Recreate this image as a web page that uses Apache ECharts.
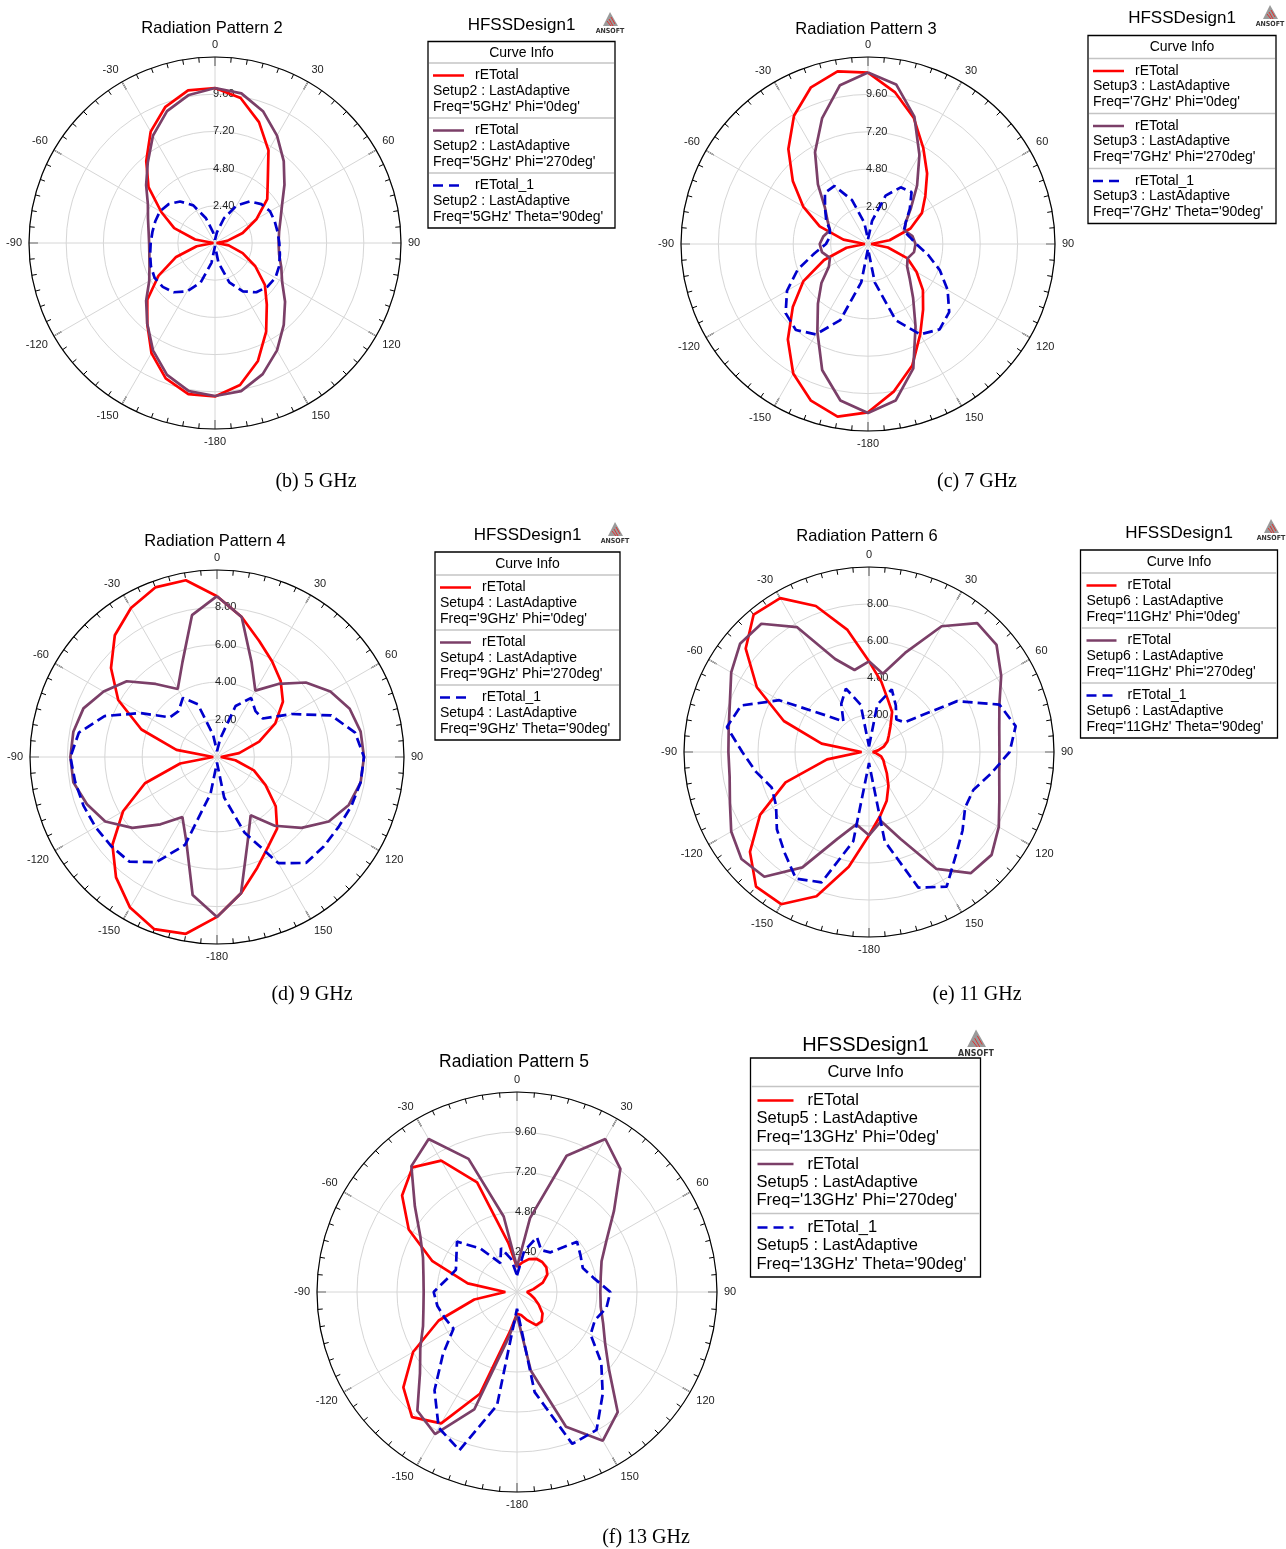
<!DOCTYPE html>
<html>
<head>
<meta charset="utf-8">
<script src="https://cdn.jsdelivr.net/npm/echarts@6/dist/echarts.min.js"></script>
<style>
  html, body { margin: 0; padding: 0; background: #fff; }
  #main { width: 1286px; height: 1549px; }
</style>
</head>
<body>
<div id="main"></div>
<script>
// angles (deg, clockwise from top) of the sampled points
var angleDeg = [0, 10, 20, 30, 40, 50, 60, 70, 80, 90, 100, 110, 120, 130, 140, 150, 160, 170,
  180, 190, 200, 210, 220, 230, 240, 250, 260, 270, 280, 290, 300, 310, 320, 330, 340, 350];

// 5 GHz
var red5G = [10.0, 9.5, 8.3, 6.9, 5.3, 4.4, 3.1, 1.9, 0.8, 0.1, 0.9, 1.9, 3.0, 4.2, 5.2, 6.6, 8.1, 9.3,
  9.9, 9.9, 9.3, 8.2, 6.8, 5.7, 4.2, 2.7, 1.2, 0.1, 1.3, 2.8, 4.0, 5.6, 6.9, 8.3, 9.35, 10.0];
var purple5G = [10.0, 9.8, 9.05, 8.0, 6.9, 5.85, 5.0, 4.5, 4.2, 4.1, 4.2, 4.55, 5.0, 5.9, 6.9, 8.0, 9.0, 9.7,
  9.87, 9.7, 9.05, 8.0, 6.8, 5.8, 4.9, 4.5, 4.3, 4.25, 4.35, 4.6, 5.0, 5.8, 6.75, 8.0, 9.05, 9.7];
var blue5G = [0.2, 0.7, 1.7, 2.8, 3.5, 3.9, 4.1, 4.1, 4.1, 4.15, 4.25, 4.4, 4.5, 4.4, 4.15, 3.6, 2.7, 1.3,
  0.2, 1.3, 2.7, 3.6, 4.15, 4.4, 4.5, 4.4, 4.25, 4.15, 4.1, 4.1, 4.1, 3.9, 3.5, 2.8, 1.7, 0.7];

// 7 GHz
var red7G = [11.0, 9.9, 8.6, 7.1, 5.9, 4.8, 4.0, 2.9, 1.4, 0.2, 1.3, 2.7, 3.6, 4.6, 5.5, 6.7, 8.3, 9.6,
  10.8, 11.25, 10.7, 9.6, 8.0, 6.3, 4.8, 3.0, 1.4, 0.2, 1.6, 3.3, 4.8, 6.3, 7.95, 9.5, 10.7, 11.25];
var purple7G = [11.0, 10.4, 8.7, 6.6, 4.9, 3.6, 2.8, 2.5, 2.9, 3.05, 3.0, 2.7, 2.9, 3.5, 4.5, 6.1, 8.5, 10.2,
  10.85, 10.2, 8.6, 6.5, 5.0, 3.9, 2.9, 2.6, 3.0, 3.1, 2.9, 2.6, 3.0, 3.6, 5.0, 6.8, 8.6, 10.35];
var blue7G = [0.3, 1.5, 3.3, 4.2, 4.35, 3.5, 2.8, 2.45, 2.7, 3.1, 3.9, 4.9, 5.9, 6.8, 7.15, 6.7, 5.2, 2.5,
  0.3, 2.5, 5.2, 6.7, 7.2, 6.9, 6.0, 4.8, 3.5, 2.7, 2.5, 2.6, 3.1, 3.6, 4.3, 4.3, 3.0, 1.4];

// 9 GHz
var red9G = [8.6, 7.6, 6.6, 5.9, 5.3, 4.6, 3.6, 2.4, 1.2, 0.2, 1.0, 2.1, 3.0, 4.1, 5.0, 5.5, 6.3, 7.4,
  8.55, 9.6, 9.8, 9.3, 8.4, 7.3, 5.8, 4.1, 2.0, 0.2, 2.2, 4.3, 6.1, 7.4, 8.5, 9.2, 9.65, 9.6];
var purple9G = [8.6, 7.6, 5.4, 4.1, 5.1, 6.2, 7.0, 7.55, 7.8, 7.86, 7.8, 7.5, 6.9, 5.9, 4.8, 3.6, 4.8, 7.4,
  8.56, 7.5, 4.8, 3.7, 4.7, 5.9, 6.9, 7.4, 7.8, 7.84, 7.8, 7.6, 7.0, 6.3, 5.1, 4.2, 5.4, 7.7];
var blue9G = [0.3, 1.0, 2.9, 3.65, 3.2, 3.2, 4.6, 6.5, 7.5, 7.86, 7.8, 7.65, 7.5, 7.45, 7.4, 6.55, 4.3, 2.2,
  0.3, 2.0, 5.0, 6.5, 7.3, 7.4, 7.5, 7.6, 7.7, 7.84, 7.5, 6.4, 4.7, 3.3, 3.2, 3.65, 3.0, 1.2];

// 11 GHz
var red11G = [4.9, 3.85, 3.0, 2.5, 1.8, 1.4, 1.15, 0.85, 0.5, 0.2, 0.4, 0.7, 0.9, 1.1, 1.5, 2.1, 2.8, 3.5,
  4.5, 6.3, 8.3, 9.5, 9.5, 8.4, 6.8, 4.8, 2.3, 0.4, 2.6, 4.9, 7.0, 8.7, 9.7, 9.6, 8.4, 6.7];
var purple11G = [4.9, 4.3, 5.7, 7.85, 9.1, 9.0, 8.25, 7.5, 7.15, 7.05, 7.15, 7.5, 8.1, 8.65, 8.55, 7.3, 5.0, 3.8,
  4.5, 3.97, 5.0, 7.2, 8.8, 9.0, 8.6, 8.0, 7.65, 7.6, 7.7, 8.0, 8.6, 9.1, 9.05, 7.8, 5.35, 4.5];
var blue11G = [0.3, 2.6, 3.6, 2.9, 2.3, 2.5, 5.5, 7.5, 8.05, 7.6, 6.7, 6.0, 6.0, 6.6, 7.3, 8.4, 7.8, 4.9,
  0.6, 4.9, 7.5, 7.9, 7.1, 6.5, 5.8, 5.6, 6.2, 6.85, 7.8, 7.35, 5.6, 3.1, 2.15, 3.0, 3.65, 2.6];

// 13 GHz
var red13G = [1.5, 1.8, 2.1, 2.3, 2.35, 2.3, 2.1, 1.65, 1.0, 0.6, 0.8, 1.1, 1.5, 2.0, 2.3, 2.3, 1.8, 1.4,
  1.3, 2.4, 6.5, 9.1, 9.8, 8.9, 7.2, 5.0, 2.6, 0.7, 3.0, 5.4, 7.5, 9.0, 9.76, 9.1, 7.0, 3.0];
var purple13G = [1.5, 4.5, 8.7, 10.6, 9.65, 7.6, 6.2, 5.4, 5.1, 5.0, 5.1, 5.5, 6.1, 7.2, 9.4, 10.3, 8.6, 4.8,
  1.4, 2.7, 7.5, 9.84, 9.3, 7.6, 6.7, 6.0, 5.7, 5.6, 5.7, 6.0, 6.7, 8.0, 9.86, 10.6, 8.5, 4.6];
var blue13G = [1.0, 2.5, 3.5, 2.9, 3.1, 4.7, 4.4, 4.2, 4.7, 5.6, 5.45, 4.97, 5.1, 6.6, 8.0, 9.55, 9.7, 6.1,
  1.0, 6.9, 10.1, 9.4, 7.7, 5.8, 4.4, 4.6, 4.85, 5.0, 4.3, 3.9, 4.2, 4.7, 3.4, 2.0, 2.8, 2.0];

// radial scale per plot
var radiusMax = [12, 12, 10, 10, 12];
var radiusStep = [2.4, 2.4, 2, 2, 2.4];

var plotTitles = ["Radiation Pattern 2", "Radiation Pattern 3", "Radiation Pattern 4", "Radiation Pattern 6", "Radiation Pattern 5"];
var captions = ["(b) 5 GHz", "(c) 7 GHz", "(d) 9 GHz", "(e) 11 GHz", "(f) 13 GHz"];
var setupNames = ["Setup2", "Setup3", "Setup4", "Setup6", "Setup5"];
var freqNames = ["5GHz", "7GHz", "9GHz", "11GHz", "13GHz"];

var seriesSets = [
  [red5G, purple5G, blue5G],
  [red7G, purple7G, blue7G],
  [red9G, purple9G, blue9G],
  [red11G, purple11G, blue11G],
  [red13G, purple13G, blue13G]
];

// layout
var polarCenters = [[215, 243], [868, 244], [217, 757], [869, 752], [517, 1292]];
var polarRadii = [186, 187, 187, 185, 200];
var titlePos = [[212, 28], [866, 29], [215, 541], [867, 536], [514, 1062]];
var captionPos = [[316, 482], [977, 482], [312, 995], [977, 995], [646, 1538]];
var legendLayout = [
  { x: 428, y: 41.5, w: 187, h: 186.5, fs: 14, entryH: 55, pad: 12.5, lineH: 15.6, s0: 5, s1: 36, nameX: 47, tx: 5, titleY: 25, logoX: 610, logoY: 22 },
  { x: 1088, y: 35.5, w: 188, h: 188, fs: 14, entryH: 55, pad: 12.5, lineH: 15.6, s0: 5, s1: 36, nameX: 47, tx: 5, titleY: 18, logoX: 1270, logoY: 15 },
  { x: 435, y: 552, w: 185, h: 188, fs: 14, entryH: 55, pad: 12.5, lineH: 15.6, s0: 5, s1: 36, nameX: 47, tx: 5, titleY: 535, logoX: 615, logoY: 532 },
  { x: 1080.5, y: 550, w: 197, h: 188, fs: 14, entryH: 55, pad: 12.5, lineH: 15.9, s0: 6, s1: 36, nameX: 47, tx: 6, titleY: 533, logoX: 1271, logoY: 529 },
  { x: 750.5, y: 1058, w: 230, h: 219, fs: 16.5, entryH: 63.5, pad: 14, lineH: 18.3, s0: 7, s1: 43, nameX: 57, tx: 6, titleY: 1045, logoX: 976, logoY: 1042 }
];

var lineColors = ["#ff0000", "#7b3f68", "#0000cc"];
var FONT = '"Liberation Sans", Arial, sans-serif';

function toPolar(vals) {
  var pts = vals.map(function (v, i) { return [v, angleDeg[i]]; });
  pts.push([vals[0], 360]);
  return pts;
}

function txt(x, y, s, size, align, extra) {
  var st = {
    text: s, x: x, y: y, fill: "#000",
    font: size + "px " + FONT,
    align: align || "left", textAlign: align || "left",
    verticalAlign: "middle", textVerticalAlign: "middle"
  };
  if (extra) for (var k in extra) st[k] = extra[k];
  return { type: "text", silent: true, style: st };
}

function line(x1, y1, x2, y2, color, width, dash) {
  return {
    type: "line", silent: true,
    shape: { x1: x1, y1: y1, x2: x2, y2: y2 },
    style: { stroke: color, lineWidth: width, lineDash: dash || null }
  };
}

function logo(cx, cy, big) {
  var s = big ? 1.25 : 1;
  return [
    { type: "polygon", silent: true, shape: { points: [[cx, cy - 10 * s], [cx - 7 * s, cy + 4 * s], [cx + 8 * s, cy + 4 * s]] }, style: { fill: "#9a9a9a" } },
    line(cx - 1 * s, cy - 3 * s, cx + 3 * s, cy + 4 * s, "#e03030", 1),
    line(cx - 3 * s, cy - 1 * s, cx + 1 * s, cy + 4 * s, "#e03030", 1),
    line(cx + 1 * s, cy - 5 * s, cx + 5 * s, cy + 2 * s, "#e03030", 1),
    txt(cx, cy + 9 * s, "ANSOFT", 7.5 * s, "center", { fill: "#333", font: "bold " + (7 * s) + 'px "Liberation Sans Narrow", "DejaVu Sans Condensed", sans-serif' })
  ];
}

function legendBox(i) {
  var L = legendLayout[i];
  var els = [];
  var headH = L.h - 3 * L.entryH;
  els.push(txt(L.x + L.w / 2, L.titleY, "HFSSDesign1", i === 4 ? 20 : 17, "center"));
  els = els.concat(logo(L.logoX, L.logoY, i === 4));
  els.push({ type: "rect", silent: true, shape: { x: L.x, y: L.y, width: L.w, height: L.h }, style: { fill: "#fff", stroke: "#000", lineWidth: 1.3 } });
  els.push(txt(L.x + L.w / 2, L.y + headH / 2 + 0.5, "Curve Info", L.fs, "center"));
  var names = ["rETotal", "rETotal", "rETotal_1"];
  var suffix = ["Phi='0deg'", "Phi='270deg'", "Theta='90deg'"];
  for (var k = 0; k < 3; k++) {
    var top = L.y + headH + k * L.entryH;
    els.push(line(L.x + 1, top, L.x + L.w - 1, top, "#c4c4c4", 1.5));
    var r0 = top + L.pad;
    els.push(line(L.x + L.s0, r0, L.x + L.s1, r0, lineColors[k], 2.5, k === 2 ? [10, 6] : null));
    els.push(txt(L.x + L.nameX, r0, names[k], L.fs, "left"));
    els.push(txt(L.x + L.tx, r0 + L.lineH, setupNames[i] + " : LastAdaptive", L.fs, "left"));
    els.push(txt(L.x + L.tx, r0 + 2 * L.lineH, "Freq='" + freqNames[i] + "' " + suffix[k], L.fs, "left"));
  }
  return els;
}

var chart = echarts.init(document.getElementById("main"), null, { renderer: "canvas" });

var polar = [], angleAxis = [], radiusAxis = [], series = [], graphic = [];

for (var i = 0; i < 5; i++) {
  polar.push({ center: polarCenters[i], radius: polarRadii[i] });
  angleAxis.push({
    polarIndex: i,
    type: "value",
    min: 0, max: 360, interval: 30,
    startAngle: 90, clockwise: true,
    axisLine: { lineStyle: { color: "#000", width: 1.2 } },
    axisTick: { show: true, inside: true, length: 9, lineStyle: { color: "#000", width: 1.2 } },
    minorTick: { show: true, splitNumber: 6, length: 5, lineStyle: { color: "#000", width: 1 } },
    splitLine: { show: true, lineStyle: { color: "#d6d6d6", width: 1 } },
    axisLabel: {
      margin: 7, color: "#222", fontSize: 11, fontFamily: FONT,
      formatter: function (v) { return v >= 180 ? String(v - 360) : String(v); }
    }
  });
  (function (mx) {
    radiusAxis.push({
      polarIndex: i,
      type: "value",
      min: 0, max: mx, interval: radiusStep[i],
      axisLine: { show: false },
      axisTick: { show: false },
      splitLine: { show: true, lineStyle: { color: "#d6d6d6", width: 1 } },
      axisLabel: {
        margin: 2, color: "#222", fontSize: 11, fontFamily: FONT, align: "left", verticalAlign: "middle",
        formatter: function (v) { return (v < 0.01 || v > mx - 0.01) ? "" : v.toFixed(2); }
      }
    });
  })(radiusMax[i]);
  var set = seriesSets[i];
  for (var k = 0; k < 3; k++) {
    series.push({
      type: "line",
      coordinateSystem: "polar",
      polarIndex: i,
      symbol: "none",
      smooth: false,
      data: toPolar(set[k]),
      lineStyle: { color: lineColors[k], width: 2.7, type: k === 2 ? [10, 5] : "solid" },
      z: 3 + k
    });
  }
  graphic.push(txt(titlePos[i][0], titlePos[i][1], plotTitles[i], i === 4 ? 17.5 : 16.5, "center"));
  graphic.push(txt(captionPos[i][0], captionPos[i][1], captions[i], 20, "center",
    { font: '20px "Liberation Serif", "Times New Roman", serif' }));
  graphic = graphic.concat(legendBox(i));
}

chart.setOption({
  backgroundColor: "#fff",
  animation: false,
  polar: polar,
  angleAxis: angleAxis,
  radiusAxis: radiusAxis,
  series: series,
  graphic: { elements: graphic }
});
</script>
</body>
</html>
